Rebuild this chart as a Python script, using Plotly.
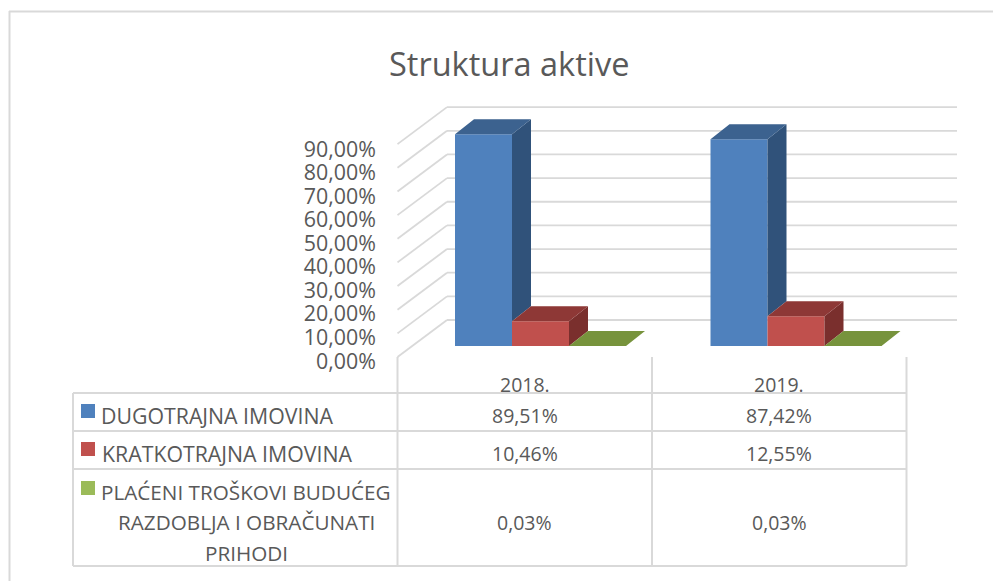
import plotly.graph_objects as go

categories = ["2018.", "2019."]
series_names = ["DUGOTRAJNA IMOVINA", "KRATKOTRAJNA IMOVINA", "PLAĆENI TROŠKOVI BUDUĆEG<br>RAZDOBLJA I OBRAČUNATI<br>PRIHODI"]
dugotrajna = [89.51, 87.42]
kratkotrajna = [10.46, 12.55]
placeni = [0.03, 0.03]
axis_ticks = [0, 10, 20, 30, 40, 50, 60, 70, 80, 90]
axis_labels = ["0,00%", "10,00%", "20,00%", "30,00%", "40,00%", "50,00%", "60,00%", "70,00%", "80,00%", "90,00%"]

W, H = 993, 581
GREY = "#d9d9d9"
TEXT = "#595959"
FONT = "Open Sans"
front = ["#4F81BD", "#C0504D", "#9BBB59"]
top = ["#3C628F", "#8E3836", "#77933C"]
side = ["#30527A", "#7A2F2D", "#77933C"]
all_values = [dugotrajna, kratkotrajna, placeni]

# scales: whole figure is the plot area
PX_PER_CAT = 255.5
PX_PER_PCT = 2.365
X0_PX, Y0_PX = 540.5, 346
x_range = [-X0_PX / PX_PER_CAT, (W - X0_PX) / PX_PER_CAT]
y_range = [-(H - Y0_PX) / PX_PER_PCT, Y0_PX / PX_PER_PCT]
def X(p): return (p - X0_PX) / PX_PER_CAT
def Y(p): return (Y0_PX - p) / PX_PER_PCT

BAR_W = 57 / PX_PER_CAT
DX = 19 / PX_PER_CAT
DY = 15 / PX_PER_PCT
positions = list(range(len(categories)))

fig = go.Figure()
for k, vals in enumerate(all_values):
    fig.add_trace(go.Bar(x=positions, y=vals, name=series_names[k].replace("<br>", " "), width=BAR_W,
                         offset=(k - 1.5) * BAR_W,
                         marker=dict(color=front[k], line=dict(width=0)), showlegend=False))

for k, vals in enumerate(all_values):
    sx, sy, tx, ty = [], [], [], []
    for i, v in zip(positions, vals):
        x0 = i + (k - 1.5) * BAR_W
        x1 = x0 + BAR_W
        nxt = all_values[k + 1][i] if k + 1 < len(all_values) else 0
        sx += [x1, x1 + DX, x1 + DX, x1, x1, None]
        sy += [nxt, nxt + DY, v + DY, v, nxt, None]
        tx += [x0, x1, x1 + DX, x0 + DX, x0, None]
        ty += [v, v, v + DY, v + DY, v, None]
    for xs, ys, col in ((sx, sy, side[k]), (tx, ty, top[k])):
        fig.add_trace(go.Scatter(x=xs, y=ys, mode="lines", fill="toself", fillcolor=col,
                                 line=dict(width=0), hoverinfo="skip", showlegend=False))

# native tick labels
fig.add_trace(go.Scatter(x=[0], y=[0], xaxis="x", yaxis="y2", mode="markers",
                         marker=dict(opacity=0), hoverinfo="skip", showlegend=False))

shapes = []
def line(x0, y0, x1, y1, layer="below", w=2):
    shapes.append(dict(type="line", xref="paper", yref="paper", x0=x0 / W, x1=x1 / W,
                       y0=1 - y0 / H, y1=1 - y1 / H, layer=layer,
                       line=dict(color=GREY, width=w)))

# walls, in value space
WALL_FRONT_PX, WALL_BACK_PX = 357, 320
for t in axis_ticks:
    yf = Y(WALL_FRONT_PX) + t
    yb = Y(WALL_BACK_PX) + t
    shapes.append(dict(type="line", xref="x", yref="y", x0=X(397.5), x1=X(447), y0=yf, y1=yb,
                       layer="below", line=dict(color=GREY, width=1.8)))
    shapes.append(dict(type="line", xref="x", yref="y", x0=X(447), x1=X(957), y0=yb, y1=yb,
                       layer="below", line=dict(color=GREY, width=1.8)))

# frame
line(9, 11.5, 993, 11.5)
line(9.5, 11, 9.5, 581)
# table
COLS = [73, 397.5, 652, 906.5]
ROWS = [393, 431, 469, 566]
for r in ROWS:
    line(COLS[0], r, COLS[-1], r)
line(COLS[0], ROWS[0], COLS[0], ROWS[-1])
for c in COLS[1:]:
    line(c, 357, c, ROWS[-1])

KEY_Y = [404, 442, 481]
for col, ky in zip(front, KEY_Y):
    shapes.append(dict(type="rect", xref="paper", yref="paper", x0=81 / W, x1=95 / W,
                       y0=1 - ky / H, y1=1 - (ky + 14) / H, fillcolor=col, line=dict(width=0)))

ann = []
def text(x, y, s, size=20, anchor="center", align="center"):
    ann.append(dict(xref="paper", yref="paper", x=x / W, y=1 - y / H, text=s, showarrow=False,
                    xanchor=anchor, yanchor="middle", align=align,
                    font=dict(family=FONT, size=size, color=TEXT)))

text(508.5, 63, "Struktura aktive", size=32.5)
CELL_X = [(COLS[1] + COLS[2]) / 2, (COLS[2] + COLS[3]) / 2]
ROW_Y = [415, 453, 522]
LABEL_X = [217, 226.5, 246]
LABEL_SIZE = [21.3, 21.3, 20.7]
LINE_STEP = 30.5
for cx, c in zip(CELL_X, categories):
    text(cx, 384, c, size=19.5)
for k, vals in enumerate(all_values):
    label_lines = series_names[k].split("<br>")
    first = ROW_Y[k] - LINE_STEP * (len(label_lines) - 1) / 2
    for n, part in enumerate(label_lines):
        text(LABEL_X[k], first + n * LINE_STEP, part, size=LABEL_SIZE[k])
    for cx, v in zip(CELL_X, vals):
        text(cx, ROW_Y[k], f"{v:.2f}%".replace(".", ","), size=19.5)

fig.update_layout(
    width=W, height=H, margin=dict(l=0, r=0, t=0, b=0, autoexpand=False),
    paper_bgcolor="white", plot_bgcolor="rgba(0,0,0,0)",
    barmode="overlay",
    font=dict(family=FONT, color=TEXT),
    xaxis=dict(range=x_range, domain=[0, 1], visible=False, fixedrange=True, automargin=False),
    yaxis=dict(range=y_range, domain=[0, 1], visible=False, fixedrange=True, automargin=False),
    yaxis2=dict(anchor="free", position=376 / W, side="left", automargin=False,
                domain=[1 - 361 / H, 1 - 149 / H], range=[0, 90],
                tickmode="array", tickvals=axis_ticks, ticktext=axis_labels,
                showgrid=False, showline=False, zeroline=False, ticks="", fixedrange=True,
                tickfont=dict(family=FONT, size=21.4, color=TEXT)),
    shapes=shapes, annotations=ann, showlegend=False,
)
fig.write_html("out.html", config=dict(displayModeBar=False),
               post_script="document.body.style.margin='0';document.body.style.overflow='hidden';")
